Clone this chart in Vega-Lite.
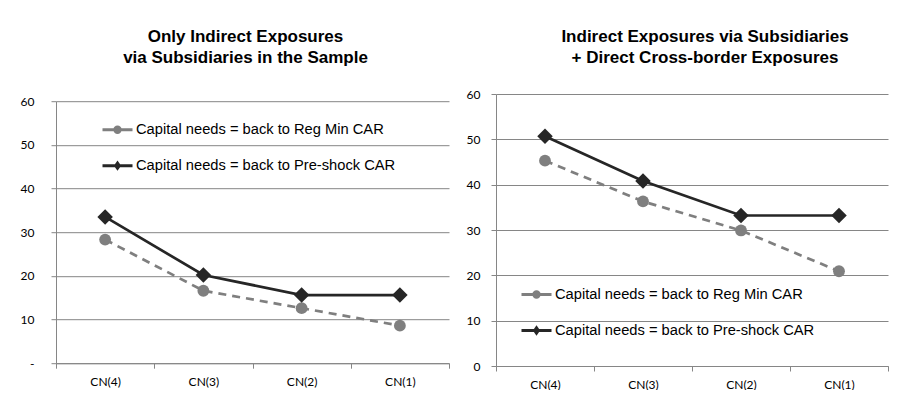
{
  "$schema": "https://vega.github.io/schema/vega-lite/v6.json",
  "background": "white",
  "padding": {"left": 20, "top": 28, "right": 0, "bottom": 0},
  "spacing": 16,
  "datasets": {
    "left": [
      {"cn": "CN(4)", "series": "Capital needs = back to Reg Min CAR", "value": 28.3},
      {"cn": "CN(3)", "series": "Capital needs = back to Reg Min CAR", "value": 16.6},
      {"cn": "CN(2)", "series": "Capital needs = back to Reg Min CAR", "value": 12.6},
      {"cn": "CN(1)", "series": "Capital needs = back to Reg Min CAR", "value": 8.6},
      {"cn": "CN(4)", "series": "Capital needs = back to Pre-shock CAR", "value": 33.5},
      {"cn": "CN(3)", "series": "Capital needs = back to Pre-shock CAR", "value": 20.2},
      {"cn": "CN(2)", "series": "Capital needs = back to Pre-shock CAR", "value": 15.6},
      {"cn": "CN(1)", "series": "Capital needs = back to Pre-shock CAR", "value": 15.6}
    ],
    "right": [
      {"cn": "CN(4)", "series": "Capital needs = back to Reg Min CAR", "value": 45.3},
      {"cn": "CN(3)", "series": "Capital needs = back to Reg Min CAR", "value": 36.3},
      {"cn": "CN(2)", "series": "Capital needs = back to Reg Min CAR", "value": 29.9},
      {"cn": "CN(1)", "series": "Capital needs = back to Reg Min CAR", "value": 20.9},
      {"cn": "CN(4)", "series": "Capital needs = back to Pre-shock CAR", "value": 50.7},
      {"cn": "CN(3)", "series": "Capital needs = back to Pre-shock CAR", "value": 40.8},
      {"cn": "CN(2)", "series": "Capital needs = back to Pre-shock CAR", "value": 33.2},
      {"cn": "CN(1)", "series": "Capital needs = back to Pre-shock CAR", "value": 33.2}
    ],
    "empty": []
  },
  "config": {
    "view": {"stroke": null},
    "title": {"font": "Liberation Sans", "fontSize": 17, "fontWeight": "bold", "color": "#000000", "lineHeight": 21, "anchor": "middle"},
    "axis": {
      "labelFont": "Lato", "labelFontSize": 12, "labelColor": "#000000",
      "domainColor": "#868686", "tickColor": "#868686", "gridColor": "#868686",
      "domainWidth": 1, "tickWidth": 1, "gridWidth": 1, "tickSize": 5, "title": null
    },
    "legend": {"labelFont": "Liberation Sans", "labelFontSize": 14.7, "labelColor": "#000000", "title": null,
      "orient": "none", "symbolSize": 900, "symbolStrokeWidth": 3, "rowPadding": 10, "labelOffset": 2, "padding": 0, "labelLimit": 400}
  },
  "hconcat": [
    {
      "spacing": 6.2,
      "bounds": "flush",
      "vconcat": [
        {"width": 393, "height": 1, "data": {"name": "empty"}, "mark": {"type": "rule"}, "encoding": {}},
        {
          "width": 393,
          "height": 262,
          "title": {"text": ["Only Indirect Exposures", "via Subsidiaries in the Sample"], "offset": 28, "dx": -7},
          "data": {"name": "left"},
          "encoding": {
            "x": {"field": "cn", "type": "nominal", "sort": ["CN(4)", "CN(3)", "CN(2)", "CN(1)"],
              "scale": {"type": "band", "paddingInner": 0, "paddingOuter": 0},
              "axis": {"labelAngle": 0, "tickBand": "extent", "labelPadding": 8, "grid": false}},
            "y": {"field": "value", "type": "quantitative", "scale": {"domain": [0, 60]},
              "axis": {"values": [0, 10, 20, 30, 40, 50, 60], "labelPadding": 17, "minExtent": 35, "maxExtent": 35,
                "labelExpr": "datum.value === 0 ? '-' : datum.label"}}
          },
          "layer": [
            {"transform": [{"filter": "datum.series === 'Capital needs = back to Reg Min CAR'"}],
              "mark": {"type": "line", "strokeWidth": 2.7, "strokeDash": [8, 6], "color": "#7f7f7f"}},
            {"transform": [{"filter": "datum.series === 'Capital needs = back to Pre-shock CAR'"}],
              "mark": {"type": "line", "strokeWidth": 2.7},
              "encoding": {
                "color": {"field": "series", "type": "nominal",
                  "scale": {"domain": ["Capital needs = back to Reg Min CAR", "Capital needs = back to Pre-shock CAR"], "range": ["#7f7f7f", "#262626"]},
                  "legend": {"legendX": 45, "legendY": 12,
                    "encode": {"symbols": {"update": {
                      "shape": {"signal": "datum.value === 'Capital needs = back to Reg Min CAR' ? 'M-1,0L1,0M-0.18,0A0.18,0.18,0,1,0,0.18,0A0.18,0.18,0,1,0,-0.18,0Z' : 'M-1,0L1,0M0,-0.17L0.12,0L0,0.17L-0.12,0Z'"},
                      "fill": {"signal": "datum.value === 'Capital needs = back to Reg Min CAR' ? '#7f7f7f' : '#262626'"},
                      "stroke": {"signal": "datum.value === 'Capital needs = back to Reg Min CAR' ? '#7f7f7f' : '#262626'"},
                      "strokeWidth": {"value": 3},
                      "opacity": {"value": 1}
                    }}}}}}},
            {"transform": [{"filter": "datum.series === 'Capital needs = back to Reg Min CAR'"}],
              "mark": {"type": "point", "shape": "circle", "filled": true, "opacity": 1, "size": 140, "color": "#7f7f7f"}},
            {"transform": [{"filter": "datum.series === 'Capital needs = back to Pre-shock CAR'"}],
              "mark": {"type": "point", "shape": "diamond", "filled": true, "opacity": 1, "size": 240, "color": "#262626"}}
          ]
        }
      ],
      "resolve": {"scale": {"color": "independent"}, "legend": {"color": "independent"}}
    },
    {
      "width": 392,
      "height": 272,
      "title": {"text": ["Indirect Exposures via Subsidiaries", "+ Direct Cross-border Exposures"], "offset": 21, "dx": 13},
      "data": {"name": "right"},
      "encoding": {
        "x": {"field": "cn", "type": "nominal", "sort": ["CN(4)", "CN(3)", "CN(2)", "CN(1)"],
          "scale": {"type": "band", "paddingInner": 0, "paddingOuter": 0},
          "axis": {"labelAngle": 0, "tickBand": "extent", "labelPadding": 8, "grid": false}},
        "y": {"field": "value", "type": "quantitative", "scale": {"domain": [0, 60]},
          "axis": {"values": [0, 10, 20, 30, 40, 50, 60], "labelPadding": 11, "minExtent": 30, "maxExtent": 30}}
      },
      "layer": [
        {"transform": [{"filter": "datum.series === 'Capital needs = back to Reg Min CAR'"}],
          "mark": {"type": "line", "strokeWidth": 2.7, "strokeDash": [8, 6], "color": "#7f7f7f"}},
        {"transform": [{"filter": "datum.series === 'Capital needs = back to Pre-shock CAR'"}],
          "mark": {"type": "line", "strokeWidth": 2.7},
          "encoding": {
            "color": {"field": "series", "type": "nominal",
              "scale": {"domain": ["Capital needs = back to Reg Min CAR", "Capital needs = back to Pre-shock CAR"], "range": ["#7f7f7f", "#262626"]},
              "legend": {"legendX": 24, "legendY": 184,
                "encode": {"symbols": {"update": {
                  "shape": {"signal": "datum.value === 'Capital needs = back to Reg Min CAR' ? 'M-1,0L1,0M-0.18,0A0.18,0.18,0,1,0,0.18,0A0.18,0.18,0,1,0,-0.18,0Z' : 'M-1,0L1,0M0,-0.17L0.12,0L0,0.17L-0.12,0Z'"},
                  "fill": {"signal": "datum.value === 'Capital needs = back to Reg Min CAR' ? '#7f7f7f' : '#262626'"},
                  "stroke": {"signal": "datum.value === 'Capital needs = back to Reg Min CAR' ? '#7f7f7f' : '#262626'"},
                  "strokeWidth": {"value": 3},
                  "opacity": {"value": 1}
                }}}}}}},
        {"transform": [{"filter": "datum.series === 'Capital needs = back to Reg Min CAR'"}],
          "mark": {"type": "point", "shape": "circle", "filled": true, "opacity": 1, "size": 140, "color": "#7f7f7f"}},
        {"transform": [{"filter": "datum.series === 'Capital needs = back to Pre-shock CAR'"}],
          "mark": {"type": "point", "shape": "diamond", "filled": true, "opacity": 1, "size": 240, "color": "#262626"}}
      ]
    }
  ],
  "resolve": {
    "scale": {"x": "independent", "y": "independent", "color": "independent"},
    "legend": {"color": "independent"}
  }
}
